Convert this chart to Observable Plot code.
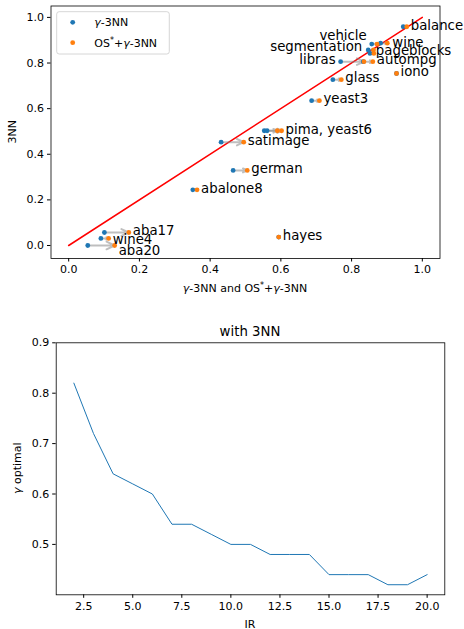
<!DOCTYPE html>
<html><head><meta charset="utf-8">
<script src="https://cdn.jsdelivr.net/npm/d3@7"></script>
<script src="https://cdn.jsdelivr.net/npm/@observablehq/plot@0.6"></script>
<style>body{margin:0;background:#fff} #c svg{display:block}</style>
</head><body><div id="c"></div>
<script>
// ---------- data: top chart ----------
const datasets   = ["balance","wine","vehicle","segmentation","pageblocks","libras","autompg","iono","glass","yeast3","pima","yeast6","satimage","german","abalone8","aba17","wine4","aba20","hayes"];
const knn3       = [0.959,0.887,0.883,0.857,0.842,0.806,0.806,0.754,0.727,0.635,0.503,0.503,0.453,0.329,0.244,0.057,0.031,0.000,0.037];
const gammaKnn   = [0.946,0.882,0.857,0.847,0.852,0.769,0.833,0.927,0.747,0.687,0.553,0.561,0.431,0.465,0.351,0.101,0.091,0.054,0.594];
const osGammaKnn = [0.956,0.901,0.872,0.862,0.863,0.835,0.860,0.927,0.771,0.709,0.590,0.602,0.495,0.505,0.363,0.170,0.113,0.130,0.594];
const pointLabels= ["balance","wine","vehicle","segmentation","pageblocks","libras","autompg","iono","glass","yeast3","","pima, yeast6","satimage","german","abalone8","aba17","wine4","aba20","hayes"];
const refX = [0, 1];
const refY = [0, 1];
const topTicks = [0, 0.2, 0.4, 0.6, 0.8, 1.0];

// ---------- data: bottom chart ----------
const irValues     = [2,3,4,5,6,7,8,9,10,11,12,13,14,15,16,17,18,19,20];
const gammaOptimal = [0.82,0.72,0.64,0.62,0.60,0.54,0.54,0.52,0.50,0.50,0.48,0.48,0.48,0.44,0.44,0.44,0.42,0.42,0.44];
const irTicks    = [2.5,5,7.5,10,12.5,15,17.5,20];
const gammaTicks = [0.5,0.6,0.7,0.8,0.9];

const BLUE = "#1f77b4", ORANGE = "#ff7f0e";
const FONT = "DejaVu Sans";

const rows = datasets.map((d,i)=>({name:d, y:knn3[i], g:gammaKnn[i], o:osGammaKnn[i], label:pointLabels[i]}));
const arrowRows = rows.filter(r => r.o - r.g > 0.001);

// label placement (style only)
const place = {
  vehicle:{anchor:"end", at:"g", dx:-5, dy:-8},
  segmentation:{anchor:"end", at:"g", dx:-6, dy:-3},
  libras:{anchor:"end", at:"g", dx:-5, dy:-2},
  pageblocks:{dx:2, dy:-3},
  wine:{dx:5, dy:0},
  wine4:{dy:1.5},
  aba20:{dy:5}
};
const textMarks = rows.filter(r => r.label).map(r => {
  const p = {anchor:"start", at:"o", dx:4, dy:-1.5, ...(place[r.name]||{})};
  return Plot.text([r], {x:p.at, y:"y", text:"label", textAnchor:p.anchor, dx:p.dx, dy:p.dy,
    fontSize:13.3, fill:"black", lineAnchor:"middle"});
});

const fmt = d3.format(".1f");
const topChart = Plot.plot({
  width:464, height:300,
  marginLeft:50.5, marginRight:24.5, marginTop:5.5, marginBottom:42,
  x:{domain:[-0.05,1.05]},
  y:{domain:[-0.057,1.05]},
  style:{fontFamily:FONT, fontSize:"11px", color:"black", background:"white"},
  marks:[
    Plot.axisX({ticks:topTicks, tickFormat:fmt, tickSize:3.5, tickPadding:3.5, label:null, fontSize:11}),
    Plot.axisY({ticks:topTicks, tickFormat:fmt, tickSize:3.5, tickPadding:3.5, label:null, fontSize:11}),
    Plot.line(refX.map((x,i)=>({x, y:refY[i]})), {x:"x", y:"y", stroke:"red", strokeWidth:1.5}),
    Plot.arrow(arrowRows, {x1:"g", y1:"y", x2:"o", y2:"y", stroke:"gray", strokeOpacity:0.5, strokeWidth:2, headLength:7, headAngle:50}),
    Plot.dot(rows, {x:"g", y:"y", r:2.4, fill:BLUE}),
    Plot.dot(rows, {x:"o", y:"y", r:2.4, fill:ORANGE}),
    ...textMarks,
    Plot.frame({stroke:"black", strokeWidth:0.8})
  ]
});

function gammaLabel(sel, parts) {
  parts.forEach(p => {
    const t = sel.append("tspan").text(p.t);
    if (p.i) t.attr("font-style","italic");
    if (p.sup) t.attr("font-size","8px").attr("dy","-4");
    if (p.down) t.attr("dy","4");
  });
}

{
  const s = d3.select(topChart);
  const xl = s.append("text").attr("x",245).attr("y",292).attr("text-anchor","middle")
    .attr("font-family",FONT).attr("font-size","11px").attr("fill","black");
  gammaLabel(xl, [{t:"γ",i:1},{t:"-3NN and OS"},{t:"*",sup:1},{t:"+",down:1},{t:"γ",i:1},{t:"-3NN"}]);
  s.append("text").attr("transform","translate(12.7,131.8) rotate(-90)").attr("text-anchor","middle")
    .attr("dominant-baseline","central").attr("font-family",FONT).attr("font-size","11px").attr("fill","black").text("3NN");
  // legend
  const lg = s.append("g");
  lg.append("rect").attr("x",56.7).attr("y",11.7).attr("width",112.6).attr("height",42.3).attr("rx",2.5)
    .attr("fill","white").attr("fill-opacity",0.8).attr("stroke","#cccccc").attr("stroke-width",0.8);
  lg.append("circle").attr("cx",72.7).attr("cy",22.3).attr("r",2.4).attr("fill",BLUE);
  lg.append("circle").attr("cx",72.7).attr("cy",42.7).attr("r",2.4).attr("fill",ORANGE);
  const t1 = lg.append("text").attr("x",94.3).attr("y",26.3).attr("text-anchor","start").attr("font-family",FONT).attr("font-size","11px").attr("fill","black");
  gammaLabel(t1, [{t:"γ",i:1},{t:"-3NN"}]);
  const t2 = lg.append("text").attr("x",94.3).attr("y",46.7).attr("text-anchor","start").attr("font-family",FONT).attr("font-size","11px").attr("fill","black");
  gammaLabel(t2, [{t:"OS"},{t:"*",sup:1},{t:"+",down:1},{t:"γ",i:1},{t:"-3NN"}]);
}

const bottomChart = Plot.plot({
  width:464, height:329,
  marginLeft:55.7, marginRight:19.7, marginTop:42.3, marginBottom:34.7,
  x:{domain:[1.1,20.9]},
  y:{domain:[0.4,0.9]},
  style:{fontFamily:FONT, fontSize:"11px", color:"black", background:"white"},
  marks:[
    Plot.axisX({ticks:irTicks, tickFormat:fmt, tickSize:3.5, tickPadding:3.5, label:null, fontSize:11}),
    Plot.axisY({ticks:gammaTicks, tickFormat:fmt, tickSize:3.5, tickPadding:3.5, label:null, fontSize:11}),
    Plot.line(irValues.map((x,i)=>({x, y:gammaOptimal[i]})), {x:"x", y:"y", stroke:BLUE, strokeWidth:1}),
    Plot.frame({stroke:"black", strokeWidth:0.8})
  ]
});
{
  const s = d3.select(bottomChart);
  s.append("text").attr("x",250).attr("y",36).attr("text-anchor","middle")
    .attr("font-family",FONT).attr("font-size","13.3px").attr("fill","black").text("with 3NN");
  s.append("text").attr("x",250).attr("y",327.5).attr("text-anchor","middle")
    .attr("font-family",FONT).attr("font-size","11px").attr("fill","black").text("IR");
  const yl = s.append("text").attr("transform","translate(16.7,168.3) rotate(-90)").attr("text-anchor","middle")
    .attr("dominant-baseline","central").attr("font-family",FONT).attr("font-size","11px").attr("fill","black");
  gammaLabel(yl, [{t:"γ",i:1},{t:" optimal"}]);
}

document.getElementById("c").append(topChart, bottomChart);
</script>
</body></html>
